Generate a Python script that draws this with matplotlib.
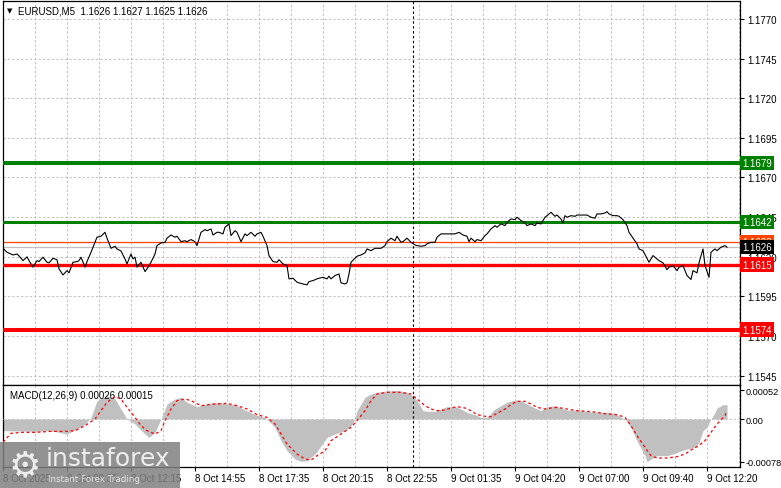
import numpy as np
import matplotlib
matplotlib.use("Agg")
import matplotlib.pyplot as plt
from matplotlib.patches import Rectangle
from matplotlib.transforms import blended_transform_factory

plt.rcParams['font.family'] = ['Liberation Sans', 'DejaVu Sans']

# EURUSD M5 close (bar index from 8 Oct 06:55)
price_bar = [0, 2, 5, 7, 8, 10, 12, 13, 15, 17, 18, 20, 22, 23, 25, 27, 28, 30, 32, 33,
             35, 37, 38, 39, 41, 42, 44, 46, 47, 49, 51, 52, 54, 56, 57, 59, 61, 62, 64, 65,
             66, 67, 69, 71, 72, 74, 76, 77, 79, 81, 82, 84, 86, 87, 89, 91, 92, 94, 96, 97,
             99, 101, 102, 104, 105, 107, 108, 110, 111, 113, 114, 116, 117, 119, 121, 122, 124, 126, 127, 129,
             130, 132, 133, 135, 137, 138, 140, 142, 143, 145, 147, 148, 150, 152, 153, 155, 157, 158, 160, 162,
             163, 164, 166, 168, 169, 171, 172, 173, 174, 176, 177, 179, 181, 182, 184, 186, 187, 189, 191, 192,
             194, 196, 197, 199, 200, 202, 204, 206, 207, 209, 211, 212, 214, 216, 217, 219, 221, 222, 224, 226,
             228, 230, 232, 233, 234, 236, 237, 239, 241, 242, 244, 246, 247, 249, 251, 252, 254, 256, 257, 259,
             261, 262, 264, 266, 267, 269, 271, 272, 274, 276, 277, 279, 280, 281, 282, 284, 286, 287, 289, 291,
             292, 294, 296, 297, 299, 301, 302, 303, 305, 307, 308, 310, 312, 313, 315, 317, 318, 320, 322, 323,
             325, 327, 328, 330, 332, 333, 335, 337, 338, 340, 341, 342, 344, 345, 347, 348, 350, 351, 353, 354,
             356, 357, 359, 361, 362]
price = [1.16253, 1.16228, 1.16211, 1.16217, 1.16205, 1.16175, 1.16199, 1.16175, 1.16134, 1.16175,
         1.16169, 1.16197, 1.16165, 1.16161, 1.16190, 1.16181, 1.16123, 1.16085, 1.16112, 1.16098,
         1.16165, 1.16169, 1.16175, 1.16197, 1.16134, 1.16169, 1.16228, 1.16291, 1.16323, 1.16329,
         1.16354, 1.16317, 1.16253, 1.16266, 1.16249, 1.16236, 1.16186, 1.16154, 1.16217, 1.16186,
         1.16197, 1.16134, 1.16165, 1.16106, 1.16123, 1.16165, 1.16217, 1.16270, 1.16287, 1.16291,
         1.16317, 1.16337, 1.16323, 1.16329, 1.16295, 1.16301, 1.16295, 1.16308, 1.16295, 1.16270,
         1.16354, 1.16371, 1.16364, 1.16375, 1.16337, 1.16354, 1.16354, 1.16344, 1.16386, 1.16407,
         1.16333, 1.16364, 1.16354, 1.16295, 1.16344, 1.16333, 1.16354, 1.16329, 1.16344, 1.16354,
         1.16329, 1.16270, 1.16207, 1.16169, 1.16165, 1.16181, 1.16154, 1.16144, 1.16060, 1.16064,
         1.16039, 1.16035, 1.16028, 1.16022, 1.16043, 1.16049, 1.16060, 1.16064, 1.16070, 1.16060,
         1.16077, 1.16060, 1.16081, 1.16091, 1.16035, 1.16028, 1.16035, 1.16091, 1.16165, 1.16190,
         1.16203, 1.16211, 1.16224, 1.16249, 1.16238, 1.16253, 1.16253, 1.16253, 1.16270, 1.16295,
         1.16317, 1.16301, 1.16329, 1.16291, 1.16295, 1.16317, 1.16291, 1.16274, 1.16270, 1.16266,
         1.16270, 1.16281, 1.16291, 1.16291, 1.16323, 1.16344, 1.16344, 1.16344, 1.16344, 1.16344,
         1.16354, 1.16337, 1.16329, 1.16295, 1.16317, 1.16295, 1.16308, 1.16301, 1.16333, 1.16344,
         1.16375, 1.16396, 1.16386, 1.16407, 1.16396, 1.16417, 1.16438, 1.16434, 1.16449, 1.16428,
         1.16413, 1.16396, 1.16407, 1.16396, 1.16413, 1.16407, 1.16449, 1.16459, 1.16480, 1.16455,
         1.16463, 1.16438, 1.16413, 1.16459, 1.16449, 1.16459, 1.16455, 1.16463, 1.16463, 1.16463,
         1.16463, 1.16449, 1.16443, 1.16470, 1.16470, 1.16476, 1.16484, 1.16470, 1.16459, 1.16459,
         1.16455, 1.16434, 1.16396, 1.16354, 1.16317, 1.16281, 1.16249, 1.16238, 1.16190, 1.16165,
         1.16207, 1.16186, 1.16175, 1.16161, 1.16118, 1.16134, 1.16144, 1.16112, 1.16134, 1.16144,
         1.16112, 1.16081, 1.16056, 1.16112, 1.16098, 1.16161, 1.16249, 1.16144, 1.16070, 1.16228,
         1.16249, 1.16238, 1.16260, 1.16270, 1.16260]

# MACD(12,26,9) main (histogram) and signal
hist_bar = [0, 16, 24, 32, 37, 41, 44, 47, 52, 56, 59, 62, 66, 71, 73, 76, 79, 82, 86, 89,
            92, 97, 101, 106, 111, 116, 121, 126, 131, 132, 136, 139, 142, 146, 149, 152, 156, 159, 162, 166,
            171, 174, 176, 177, 181, 184, 187, 192, 197, 202, 206, 208, 210, 212, 216, 219, 222, 226, 229, 232,
            236, 239, 242, 246, 249, 252, 256, 259, 262, 266, 269, 272, 276, 279, 282, 289, 296, 302, 306, 309,
            311, 314, 317, 321, 322, 324, 327, 332, 336, 339, 342, 346, 348, 350, 352, 354, 356, 357, 360, 362]
hist = [-0.000212, -0.000225, -0.000212, -0.000273, -0.000182, -0.000091, 0.000030, 0.000334, 0.000425, 0.000364,
        0.000182, 0.0, -0.000091, -0.000273, -0.000334, -0.000243, 0.0, 0.000273, 0.000364, 0.000395,
        0.000304, 0.000225, 0.000273, 0.000304, 0.000285, 0.000261, 0.000164, 0.000079, 0.000030, 0.0,
        -0.000152, -0.000395, -0.000577, -0.000728, -0.000771, -0.000759, -0.000637, -0.000486, -0.000334, -0.000273,
        -0.000212, -0.000121, 0.0, 0.000152, 0.000395, 0.000455, 0.000486, 0.000510, 0.000520, 0.000486,
        0.000395, 0.000273, 0.000152, 0.000140, 0.000140, 0.000182, 0.000225, 0.000225, 0.000182, 0.000121,
        0.000079, 0.000030, 0.000030, 0.000182, 0.000243, 0.000304, 0.000346, 0.000334, 0.000273, 0.000200,
        0.000152, 0.000225, 0.000243, 0.000200, 0.000164, 0.000152, 0.000121, 0.000121, 0.000103, 0.000030,
        0.0, -0.000152, -0.000395, -0.000668, -0.000780, -0.000728, -0.000668, -0.000668, -0.000625, -0.000577,
        -0.000546, -0.000516, -0.000425, -0.000212, -0.000152, 0.0, 0.000121, 0.000200, 0.000261, 0.000260]

signal_bar = [0, 4, 9, 16, 24, 31, 36, 41, 46, 49, 52, 56, 59, 62, 66, 69, 72, 76, 79, 81,
              84, 87, 91, 94, 99, 106, 112, 117, 122, 127, 132, 136, 139, 142, 147, 151, 154, 157, 161, 164,
              169, 174, 177, 181, 184, 187, 192, 194, 199, 204, 207, 211, 214, 217, 221, 224, 227, 231, 234, 237,
              241, 244, 247, 251, 254, 257, 261, 264, 267, 271, 274, 277, 282, 287, 292, 297, 302, 307, 311, 314,
              317, 321, 324, 327, 332, 337, 341, 344, 347, 351, 354, 357, 361, 362]
signal = [-0.000419, -0.000261, -0.000243, -0.000243, -0.000225, -0.000225, -0.000212, -0.000121, 0.0, 0.000152,
          0.000304, 0.000407, 0.000364, 0.000212, 0.000030, -0.000121, -0.000212, -0.000273, -0.000212, -0.000030,
          0.000182, 0.000334, 0.000364, 0.000334, 0.000243, 0.000273, 0.000285, 0.000243, 0.000182, 0.000079,
          0.000030, -0.000091, -0.000273, -0.000455, -0.000637, -0.000728, -0.000747, -0.000668, -0.000577, -0.000395,
          -0.000273, -0.000152, -0.000030, 0.000152, 0.000334, 0.000455, 0.000486, 0.000486, 0.000486, 0.000455,
          0.000364, 0.000243, 0.000182, 0.000152, 0.000164, 0.000200, 0.000225, 0.000200, 0.000152, 0.000079,
          0.000049, 0.000042, 0.000103, 0.000182, 0.000261, 0.000322, 0.000322, 0.000273, 0.000212, 0.000182,
          0.000200, 0.000212, 0.000182, 0.000152, 0.000140, 0.000121, 0.000091, 0.000079, 0.000030, -0.000121,
          -0.000304, -0.000516, -0.000668, -0.000710, -0.000710, -0.000686, -0.000637, -0.000565, -0.000504, -0.000395,
          -0.000243, -0.000091, 0.000061, 0.000150]

price_ticks = [1.1770, 1.1745, 1.1720, 1.1695, 1.1670, 1.1645, 1.1620, 1.1595, 1.1570, 1.1545]
macd_ticks = [0.00052, 0.0, -0.00078]
macd_tick_labels = ["0.00052", "0.00", "-0.00078"]

time_bars = [0, 32, 64, 96, 128, 160, 192, 224, 256, 288, 320, 352]
time_labels = ["8 Oct 2025", "8 Oct 09:35", "8 Oct 12:15", "8 Oct 14:55", "8 Oct 17:35", "8 Oct 20:15",
               "8 Oct 22:55", "9 Oct 01:35", "9 Oct 04:20", "9 Oct 07:00", "9 Oct 09:40", "9 Oct 12:20"]

levels = [1.1679, 1.1642, 1.1615, 1.1574]
level_colors = ["#008000", "#008000", "#ff0000", "#ff0000"]
level_widths = [2.9, 2.2, 2.4, 2.9]
bid = 1.1626
ask = 1.1629
cursor_bar = 205

grid_col = "#c0c0c0"
dash = (0, (2.2, 2.2))
fs = 7

fig = plt.figure(figsize=(7.81, 4.89), dpi=100)
ax = fig.add_axes([3 / 781, 103.3 / 489, 737 / 781, 383.7 / 489])
ax2 = fig.add_axes([3 / 781, 20.7 / 489, 737 / 781, 82.3 / 489])

xmax = 368.5

# ---- price panel
for b in range(0, 369, 16):
    ax.axvline(b, color=grid_col, lw=0.72, ls=dash, zorder=1)
    ax2.axvline(b, color=grid_col, lw=0.72, ls=dash, zorder=1)
for p in price_ticks:
    ax.axhline(p, color=grid_col, lw=0.72, ls=dash, zorder=1)

ax.axhline(bid, color="#c0c0c0", lw=0.9, zorder=2)
ax.axhline(ask, color="#ff4500", lw=0.9, zorder=2)
for lv, c, w in zip(levels, level_colors, level_widths):
    ax.axhline(lv, color=c, lw=w, zorder=3)

ax.plot(price_bar, price, color="black", lw=0.8, zorder=4)
ax.axvline(cursor_bar, color="black", lw=0.8, ls=dash, zorder=5)
ax2.axvline(cursor_bar, color="black", lw=0.8, ls=dash, zorder=5)

ax.set_xlim(0, xmax)
ax.set_ylim(1.15392, 1.17814)
ax.yaxis.tick_right()
ax.set_yticks(price_ticks)
ax.set_yticklabels([f"{p:.4f}" for p in price_ticks])
ax.tick_params(axis='y', direction='out', length=3, width=0.8, pad=2, labelsize=fs)
ax.set_xticks([])

tr = blended_transform_factory(ax.transAxes, ax.transData)
box_labels = [(ask, "#ff4500", "white"), (bid, "black", "white")]
for lv, c in zip(levels, level_colors):
    box_labels.append((lv, c, "white"))
for val, bg, fg in box_labels:
    ax.text(1.0035, val, f"{val:.4f}", transform=tr, ha="left", va="center", fontsize=fs,
            color=fg, clip_on=False, zorder=10,
            bbox=dict(boxstyle="square,pad=0.22", fc=bg, ec="none"))

for s in ax.spines.values():
    s.set_color("black")
    s.set_linewidth(0.9)

fig.text(10 / 781, 1 - 11 / 489, "\u25bc", fontsize=5, ha="center", va="center",
         family="DejaVu Sans")
fig.text(18 / 781, 1 - 11 / 489, "EURUSD,M5  1.1626 1.1627 1.1625 1.1626", fontsize=fs,
         ha="left", va="center")

# ---- MACD panel
ax2.fill_between(hist_bar, 0, hist, color="#c0c0c0", lw=0, zorder=2)
ax2.axhline(0, color=grid_col, lw=0.72, ls=dash, zorder=3)
ax2.plot(signal_bar, signal, color="red", lw=0.9, ls=(0, (2.2, 2.2)), zorder=4)
ax2.set_xlim(0, xmax)
ax2.set_ylim(-0.000879, 0.000619)
ax2.yaxis.tick_right()
ax2.set_yticks(macd_ticks)
ax2.set_yticklabels(macd_tick_labels)
ax2.tick_params(axis='y', direction='out', length=3, width=0.8, pad=1, labelsize=6.6)
ax2.set_xticks(time_bars)
ax2.set_xticklabels(time_labels, ha="left")
ax2.tick_params(axis='x', direction='out', length=3, width=0.8, pad=1, labelsize=fs)
for s in ax2.spines.values():
    s.set_color("black")
    s.set_linewidth(0.9)
ax2.text(7 / 737, 1 - 10 / 82.3, "MACD(12,26,9) 0.00026 0.00015", transform=ax2.transAxes,
         fontsize=fs, ha="left", va="center")

# ---- watermark
fig.patches.append(Rectangle((0, 0), 180 / 781, 46 / 489, transform=fig.transFigure,
                             fc="#808080", alpha=0.85, ec="none", zorder=20))
fig.text(25 / 781, 1 - 466 / 489, "\u2699", fontsize=26, color="#eeeeee", ha="center",
         va="center", family="DejaVu Sans", zorder=21)
fig.text(46 / 781, 1 - 459 / 489, "instaforex", fontsize=18, color="#eeeeee", ha="left",
         va="center", family="DejaVu Sans", zorder=21)
fig.text(48 / 781, 1 - 480 / 489, "Instant Forex Trading", fontsize=6.3, color="#e6e6e6",
         ha="left", va="center", family="DejaVu Sans", zorder=21)

fig.savefig("out.png", dpi=100)
